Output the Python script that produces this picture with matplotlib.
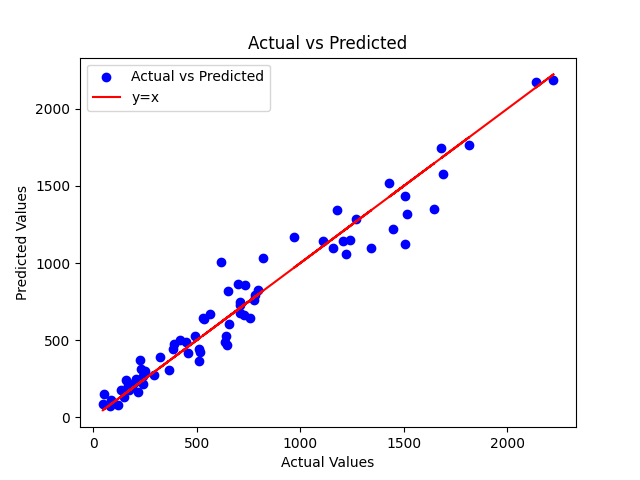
import matplotlib
matplotlib.use('Agg')
from matplotlib import pyplot as plt

actual = [2139, 2222, 1680, 1815, 1689, 1428, 1505, 1515, 1646, 1447, 1505,
          969, 1110, 1158, 1178, 1207, 1242, 1218, 1270, 1342,
          615, 820, 698, 734, 650, 795, 782, 776, 711, 707, 710, 726, 755,
          655, 566, 534, 529, 642, 645, 636, 489, 513, 447, 392, 384, 456,
          516, 510, 324, 366, 292, 224, 230, 247, 206, 158, 134, 166, 215,
          239, 150, 50, 45, 86, 82, 122, 187, 174, 200, 240, 250, 420]
predicted = [2175, 2188, 1747, 1766, 1578, 1519, 1435, 1318, 1351, 1221, 1123,
             1167, 1143, 1095, 1342, 1143, 1149, 1056, 1284, 1095,
             1004, 1032, 864, 857, 816, 825, 790, 760, 749, 727, 673, 662, 645,
             604, 667, 636, 641, 526, 467, 489, 530, 440, 489, 472, 446, 420,
             424, 364, 388, 305, 275, 370, 316, 294, 251, 240, 175, 208, 164,
             219, 132, 149, 84, 110, 71, 82, 197, 180, 230, 265, 300, 500]

plt.figure(figsize=(6.4, 4.8), dpi=100)
plt.scatter(actual, predicted, color='blue', label='Actual vs Predicted')
plt.plot(actual, actual, color='red', label='y=x')
plt.xlabel('Actual Values')
plt.ylabel('Predicted Values')
plt.title('Actual vs Predicted')
plt.legend()
plt.savefig('out.png')
